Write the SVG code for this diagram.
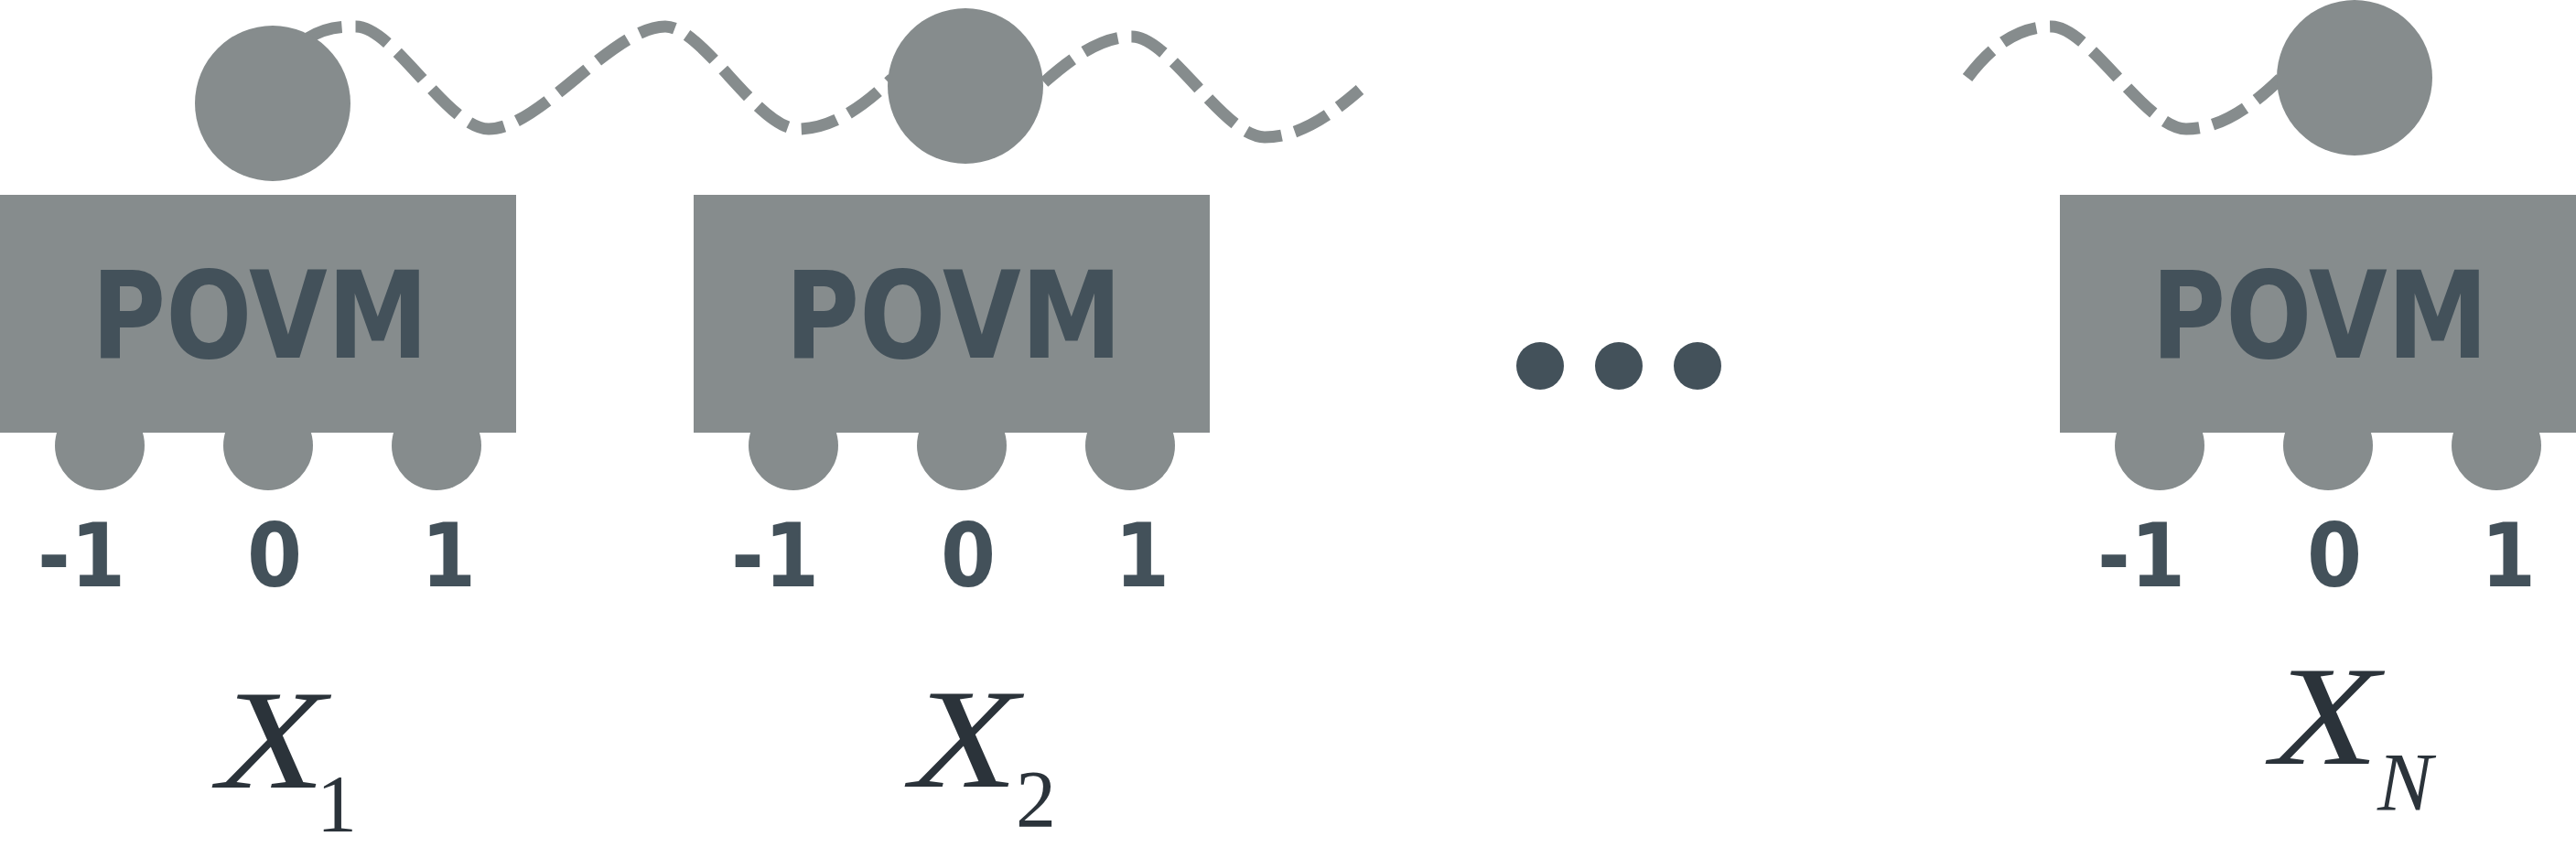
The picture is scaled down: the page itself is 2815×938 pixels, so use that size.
<svg xmlns="http://www.w3.org/2000/svg" width="2815" height="938" viewBox="0 0 2815 938">
<style>
.g{fill:#868c8d}
.wave{fill:none;stroke:#868c8d;stroke-width:13;stroke-dasharray:40 15}
.povm{font-family:"DejaVu Sans Condensed","DejaVu Sans",sans-serif;font-weight:bold;font-size:131px;fill:#43515a}
.dig{font-family:"DejaVu Sans Condensed","DejaVu Sans",sans-serif;font-weight:bold;font-size:96px;fill:#43515a;text-anchor:middle}
.xl{font-family:"Liberation Serif","Times New Roman",Times,serif;font-style:italic;font-size:154px;fill:#2b333a}
.sub{font-family:"Liberation Serif","Times New Roman",Times,serif;font-size:88px;fill:#2b333a}
.subi{font-family:"Liberation Serif","Times New Roman",Times,serif;font-style:italic;font-size:90px;fill:#2b333a}
.dot{fill:#43515a}
</style>
<g id="connectors">
<path class="wave" d="M 336 42 C 355 30, 370 29, 389 29 C 430 29, 490 141, 534 141 C 590 141, 670 29, 727 29 C 768 29, 828 141, 872 141 C 910 141, 945 115, 975 86"/>
<path class="wave" d="M 1141 90 C 1175 60, 1205 40, 1237 40 C 1278 40, 1338 150, 1382 150 C 1420 150, 1455 125, 1486 98"/>
<path class="wave" d="M 2150 85 C 2180 45, 2210 29, 2242 29 C 2283 29, 2345 141, 2389 141 C 2427 141, 2462 115, 2492 86"/>
</g>
<g id="node1">
<circle class="g" cx="298" cy="113" r="85"/>
<circle class="g" cx="109" cy="487" r="49"/>
<circle class="g" cx="293" cy="487" r="49"/>
<circle class="g" cx="477" cy="487" r="49"/>
<rect class="g" x="0" y="213" width="564" height="260"/>
<text class="povm" x="100" y="391" textLength="368" lengthAdjust="spacingAndGlyphs">POVM</text>
<text class="dig" x="89" y="641">-1</text>
<text class="dig" x="300" y="641">0</text>
<text class="dig" x="490" y="641">1</text>
<text class="xl" x="238" y="861" textLength="118" lengthAdjust="spacingAndGlyphs">X</text>
<text class="sub" x="346" y="908">1</text>
</g>
<g id="node2">
<circle class="g" cx="1055" cy="94" r="85"/>
<circle class="g" cx="867" cy="487" r="49"/>
<circle class="g" cx="1051" cy="487" r="49"/>
<circle class="g" cx="1235" cy="487" r="49"/>
<rect class="g" x="758" y="213" width="564" height="260"/>
<text class="povm" x="858" y="391" textLength="368" lengthAdjust="spacingAndGlyphs">POVM</text>
<text class="dig" x="847" y="641">-1</text>
<text class="dig" x="1058" y="641">0</text>
<text class="dig" x="1248" y="641">1</text>
<text class="xl" x="995" y="860" textLength="118" lengthAdjust="spacingAndGlyphs">X</text>
<text class="sub" x="1110" y="903">2</text>
</g>
<g id="ellipsis">
<circle class="dot" cx="1683" cy="400" r="26"/>
<circle class="dot" cx="1769" cy="400" r="26"/>
<circle class="dot" cx="1855" cy="400" r="26"/>
</g>
<g id="nodeN">
<circle class="g" cx="2573" cy="85" r="85"/>
<circle class="g" cx="2360" cy="487" r="49"/>
<circle class="g" cx="2544" cy="487" r="49"/>
<circle class="g" cx="2728" cy="487" r="49"/>
<rect class="g" x="2251" y="213" width="564" height="260"/>
<text class="povm" x="2351" y="391" textLength="368" lengthAdjust="spacingAndGlyphs">POVM</text>
<text class="dig" x="2340" y="641">-1</text>
<text class="dig" x="2551" y="641">0</text>
<text class="dig" x="2741" y="641">1</text>
<text class="xl" x="2482" y="835" textLength="118" lengthAdjust="spacingAndGlyphs">X</text>
<text class="subi" x="2598" y="886">N</text>
</g>
</svg>
